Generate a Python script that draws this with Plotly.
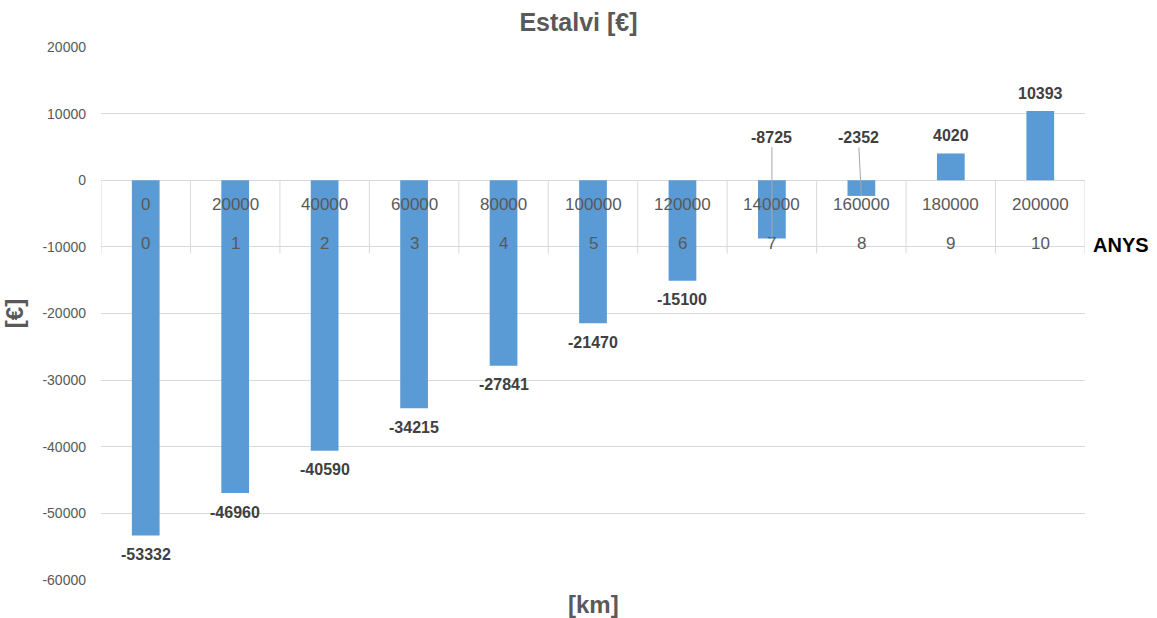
import plotly.graph_objects as go

# ---- data ----
km_labels = ["0", "20000", "40000", "60000", "80000", "100000",
             "120000", "140000", "160000", "180000", "200000"]
year_labels = ["0", "1", "2", "3", "4", "5", "6", "7", "8", "9", "10"]
savings = [-53332, -46960, -40590, -34215, -27841, -21470,
           -15100, -8725, -2352, 4020, 10393]
y_ticks = [20000, 10000, 0, -10000, -20000, -30000, -40000, -50000, -60000]

BAR = "#5B9BD5"
GRID = "#D9D9D9"
TXT = "#595959"
LBL = "#404040"
FONT = "Liberation Sans, Arial, sans-serif"

fig = go.Figure()
fig.add_trace(go.Bar(x=km_labels, y=savings, marker=dict(color=BAR, line=dict(width=0)),
                     hoverinfo="x+y"))

annotations = []
shapes = []

# Category "table" labels (km row and years row) inside the plot, below zero
for i, (km, yr) in enumerate(zip(km_labels, year_labels)):
    annotations.append(dict(x=i, y=-3600, xref="x", yref="y", text=km, showarrow=False,
                            font=dict(family=FONT, size=17, color=TXT)))
    annotations.append(dict(x=i, y=-9450, xref="x", yref="y", text=yr, showarrow=False,
                            font=dict(family=FONT, size=17, color=TXT)))

# Vertical dividers of the category table
for i in range(len(km_labels) + 1):
    shapes.append(dict(type="line", xref="x", yref="y", x0=i - 0.5, x1=i - 0.5,
                       y0=0, y1=-11000, line=dict(color=GRID, width=1), layer="below"))

# Data labels
lab_font = dict(family=FONT, size=16, color=LBL)
leader_dx = {"140000": 0, "160000": -3}
for i, (km, v) in enumerate(zip(km_labels, savings)):
    txt = "<b>%d</b>" % v
    if km in leader_dx:
        annotations.append(dict(x=i, y=v, xref="x", yref="y", text=txt,
                                showarrow=True, arrowhead=0, arrowwidth=1,
                                arrowcolor="#A6A6A6", ax=leader_dx[km], ay=6450,
                                axref="pixel", ayref="y", font=lab_font, standoff=0))
    elif v < 0:
        annotations.append(dict(x=i, y=v, xref="x", yref="y", text=txt, showarrow=False,
                                yshift=-19, font=lab_font))
    else:
        annotations.append(dict(x=i, y=v, xref="x", yref="y", text=txt, showarrow=False,
                                yshift=18, font=lab_font))

# "ANYS" label to the right of the years row
annotations.append(dict(x=1.0, y=-10000, xref="paper", yref="y", text="<b>ANYS</b>",
                        showarrow=False, xanchor="left", xshift=6, yshift=2,
                        font=dict(family=FONT, size=20, color="#000000")))

# x-axis title
annotations.append(dict(x=0.5, y=0, xref="paper", yref="paper", text="<b>[km]</b>",
                        showarrow=False, yanchor="top", yshift=-9,
                        font=dict(family=FONT, size=24, color=TXT)))

fig.update_layout(
    width=1157, height=618,
    margin=dict(l=101, r=72, t=47, b=38),
    paper_bgcolor="white", plot_bgcolor="white",
    showlegend=False,
    bargap=0.69,
    title=dict(text="<b>Estalvi [€]</b>", x=0.5, xanchor="center", y=0.964, yanchor="middle",
               font=dict(family=FONT, size=25, color=TXT)),
    xaxis=dict(type="category", showticklabels=False, showgrid=False, zeroline=False,
               showline=False, ticks="", range=[-0.5, 10.5]),
    yaxis=dict(range=[-60000, 20000], tickvals=y_ticks, ticktext=[str(t) for t in y_ticks],
               showgrid=True, gridcolor=GRID, gridwidth=1, zeroline=True,
               zerolinecolor=GRID, zerolinewidth=1, showline=False, ticks="",
               ticklabelstandoff=14,
               tickfont=dict(family=FONT, size=14, color=TXT),
               title=dict(text="<b>[€]</b>", standoff=12,
                          font=dict(family=FONT, size=24, color=TXT))),
    annotations=annotations,
    shapes=shapes,
    font=dict(family=FONT),
)

fig.write_html("out.html", config={"displayModeBar": False},
               post_script="document.body.style.margin='0';document.body.style.overflow='hidden';")
